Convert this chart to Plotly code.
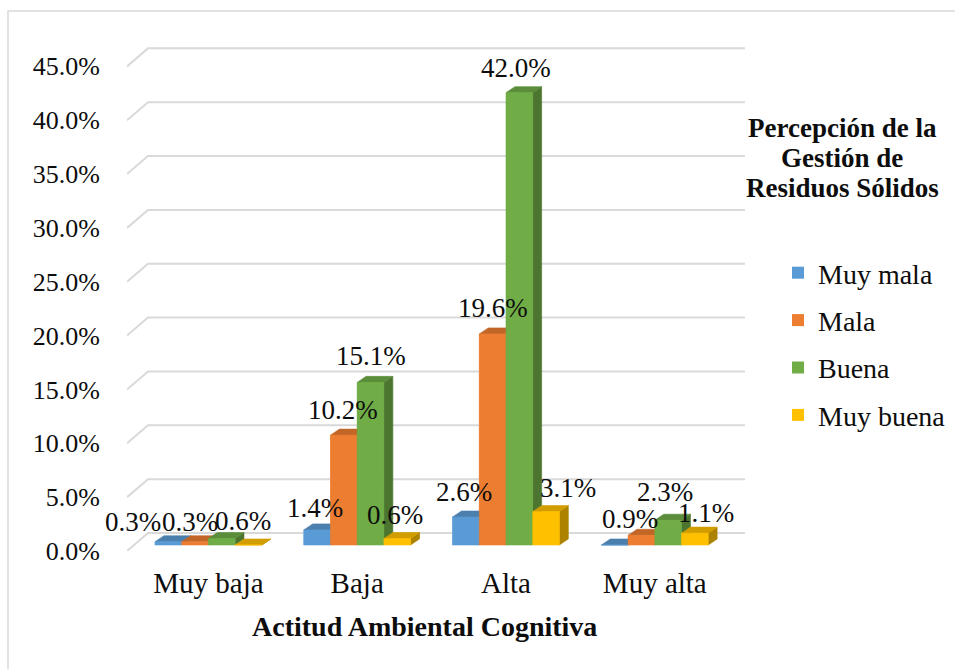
import plotly.graph_objects as go

# ---- data -------------------------------------------------------------
categories = ["Muy baja", "Baja", "Alta", "Muy alta"]
series_names = ["Muy mala", "Mala", "Buena", "Muy buena"]
muy_mala = [0.3, 1.4, 2.6, 0.0]
mala = [0.3, 10.2, 19.6, 0.9]
buena = [0.6, 15.1, 42.0, 2.3]
muy_buena = [0.0, 0.6, 3.1, 1.1]
y_ticks = [0, 5, 10, 15, 20, 25, 30, 35, 40, 45]
y_tick_labels = ["0.0%", "5.0%", "10.0%", "15.0%", "20.0%", "25.0%",
                 "30.0%", "35.0%", "40.0%", "45.0%"]
legend_title_lines = ["Percepción de la", "Gestión de", "Residuos Sólidos"]
x_title = "Actitud Ambiental Cognitiva"

series_values = [muy_mala, mala, buena, muy_buena]
base_colors = ["#5B9BD5", "#ED7D31", "#70AD47", "#FFC000"]

# ---- canvas / plot area (pixels) --------------------------------------
W, H = 955, 669
ML, MR, MT, MB = 127, 195, 30, 118
PW, PH = W - ML - MR, H - MT - MB


def px_x(px):
    """figure pixel column -> paper x"""
    return (px - ML) / PW


def px_y(py):
    """figure pixel row -> paper y"""
    return (H - MB - py) / PH


# ---- 3-D look geometry (axis units) -----------------------------------
BAR_W = 0.1795          # width of one bar, in category units
BAR_DX, BAR_DY = 0.06, 0.56      # bar depth projection
FRONT_X, BACK_X, BACK_RIGHT_X = -0.547, -0.406, 3.606   # floor / back wall
FRONT_DY, BACK_DY = -0.557, 1.114  # vertical shift of floor front / back wall

FONT = "Liberation Serif, Times New Roman, serif"
FS_TICK, FS_LABEL, FS_CAT, FS_LEG, FS_LEGT = 26, 27, 29, 28, 27
TXT = "#0d0d0d"
GRID = "#D9D9D9"


def shade(hex_color, k):
    h = hex_color.lstrip("#")
    r, g, b = (int(h[i:i + 2], 16) for i in (0, 2, 4))
    return "rgb({},{},{})".format(int(r * k), int(g * k), int(b * k))


fig = go.Figure()

# bar traces (also provide the legend entries)
for j, (name, vals, col) in enumerate(zip(series_names, series_values, base_colors)):
    fig.add_trace(go.Bar(
        x=[i + (j - 1.5) * BAR_W for i in range(len(categories))],
        y=vals, width=BAR_W, name=name, legendgroup=name,
        marker=dict(color=col, line=dict(width=0)),
        hoverinfo="skip",
    ))

# back-wall gridlines with the diagonal floor edge on the left
gx, gy = [], []
for t in y_ticks:
    gx += [FRONT_X, BACK_X, BACK_RIGHT_X, None]
    gy += [t + FRONT_DY, t + BACK_DY, t + BACK_DY, None]
fig.add_trace(go.Scatter(x=gx, y=gy, mode="lines", line=dict(color=GRID, width=2),
                         showlegend=False, hoverinfo="skip"))


def face(xs, ys, color):
    fig.add_trace(go.Scatter(
        x=xs + [xs[0]], y=ys + [ys[0]], mode="lines", fill="toself",
        fillcolor=color, line=dict(color=color, width=0.6),
        showlegend=False, hoverinfo="skip"))


# solid faces, painted left to right so neighbours hide each other correctly
for i in range(len(categories)):
    for j, (vals, col) in enumerate(zip(series_values, base_colors)):
        h = vals[i]
        x0 = i + (j - 2) * BAR_W
        x1 = x0 + BAR_W
        face([x1, x1 + BAR_DX, x1 + BAR_DX, x1], [0, BAR_DY, h + BAR_DY, h], shade(col, 0.68))
        face([x0, x0 + BAR_DX, x1 + BAR_DX, x1], [h, h + BAR_DY, h + BAR_DY, h], shade(col, 0.82))
        face([x0, x1, x1, x0], [0, 0, h, h], col)

# value labels (pixel nudges keep crowded labels apart)
label_nudge = {
    (0, 0): (-35, -4), (1, 0): (-5, -4), (2, 0): (21, -6),
    (0, 1): (-2, -2), (1, 1): (-1, 1), (2, 1): (0, 2), (3, 1): (-2, 0),
    (0, 2): (-2, 1), (1, 2): (0, 2), (2, 2): (-3, 1), (3, 2): (22, 0),
    (1, 3): (-11, -8), (2, 3): (-3, 4), (3, 3): (11, -4),
}
for j, vals in enumerate(series_values):
    for i, v in enumerate(vals):
        if v <= 0:
            continue
        nx, ny = label_nudge.get((j, i), (0, 0))
        fig.add_annotation(
            x=i + (j - 1.5) * BAR_W, y=v, text=f"{v:.1f}%", showarrow=False,
            xanchor="center", yanchor="middle", xshift=nx, yshift=24 + ny,
            font=dict(family=FONT, size=FS_LABEL, color=TXT))

# axis title and legend title
fig.add_annotation(
    xref="paper", yref="paper", x=px_x(424), y=px_y(626),
    text=f"<b>{x_title}</b>", showarrow=False,
    xanchor="center", yanchor="middle", font=dict(family=FONT, size=28, color=TXT))
for k, line in enumerate(legend_title_lines):
    fig.add_annotation(
        xref="paper", yref="paper", x=px_x(842), y=px_y(128 + 30 * k),
        text=f"<b>{line}</b>", showarrow=False,
        xanchor="center", yanchor="middle",
        font=dict(family=FONT, size=FS_LEGT, color=TXT))

# chart-area border
fig.add_shape(type="rect", xref="paper", yref="paper",
              x0=px_x(8), x1=px_x(W + 20), y0=px_y(H + 20), y1=px_y(11),
              line=dict(color="#D9D9D9", width=1.5), fillcolor="rgba(0,0,0,0)")

fig.update_layout(
    width=W, height=H,
    margin=dict(l=ML, r=MR, t=MT, b=MB, autoexpand=False),
    paper_bgcolor="white", plot_bgcolor="rgba(0,0,0,0)",
    barmode="overlay",
    showlegend=True,
    legend=dict(
        x=px_x(778), y=px_y(248), xanchor="left", yanchor="top",
        traceorder="grouped", tracegroupgap=8,
        font=dict(family=FONT, size=FS_LEG, color=TXT),
        bgcolor="rgba(0,0,0,0)"),
    xaxis=dict(
        range=[-0.547, 3.707], showgrid=False, zeroline=False, showline=False,
        tickmode="array", tickvals=list(range(len(categories))), ticktext=categories,
        ticks="", ticklabelstandoff=12,
        tickfont=dict(family=FONT, size=FS_CAT, color=TXT)),
    yaxis=dict(
        range=[-0.557, 47.82], showgrid=False, zeroline=False, showline=False,
        tickmode="array", tickvals=[t + FRONT_DY for t in y_ticks], ticktext=y_tick_labels,
        ticks="", ticklabelstandoff=26,
        tickfont=dict(family=FONT, size=FS_TICK, color=TXT)),
)

fig.write_html("out.html")
